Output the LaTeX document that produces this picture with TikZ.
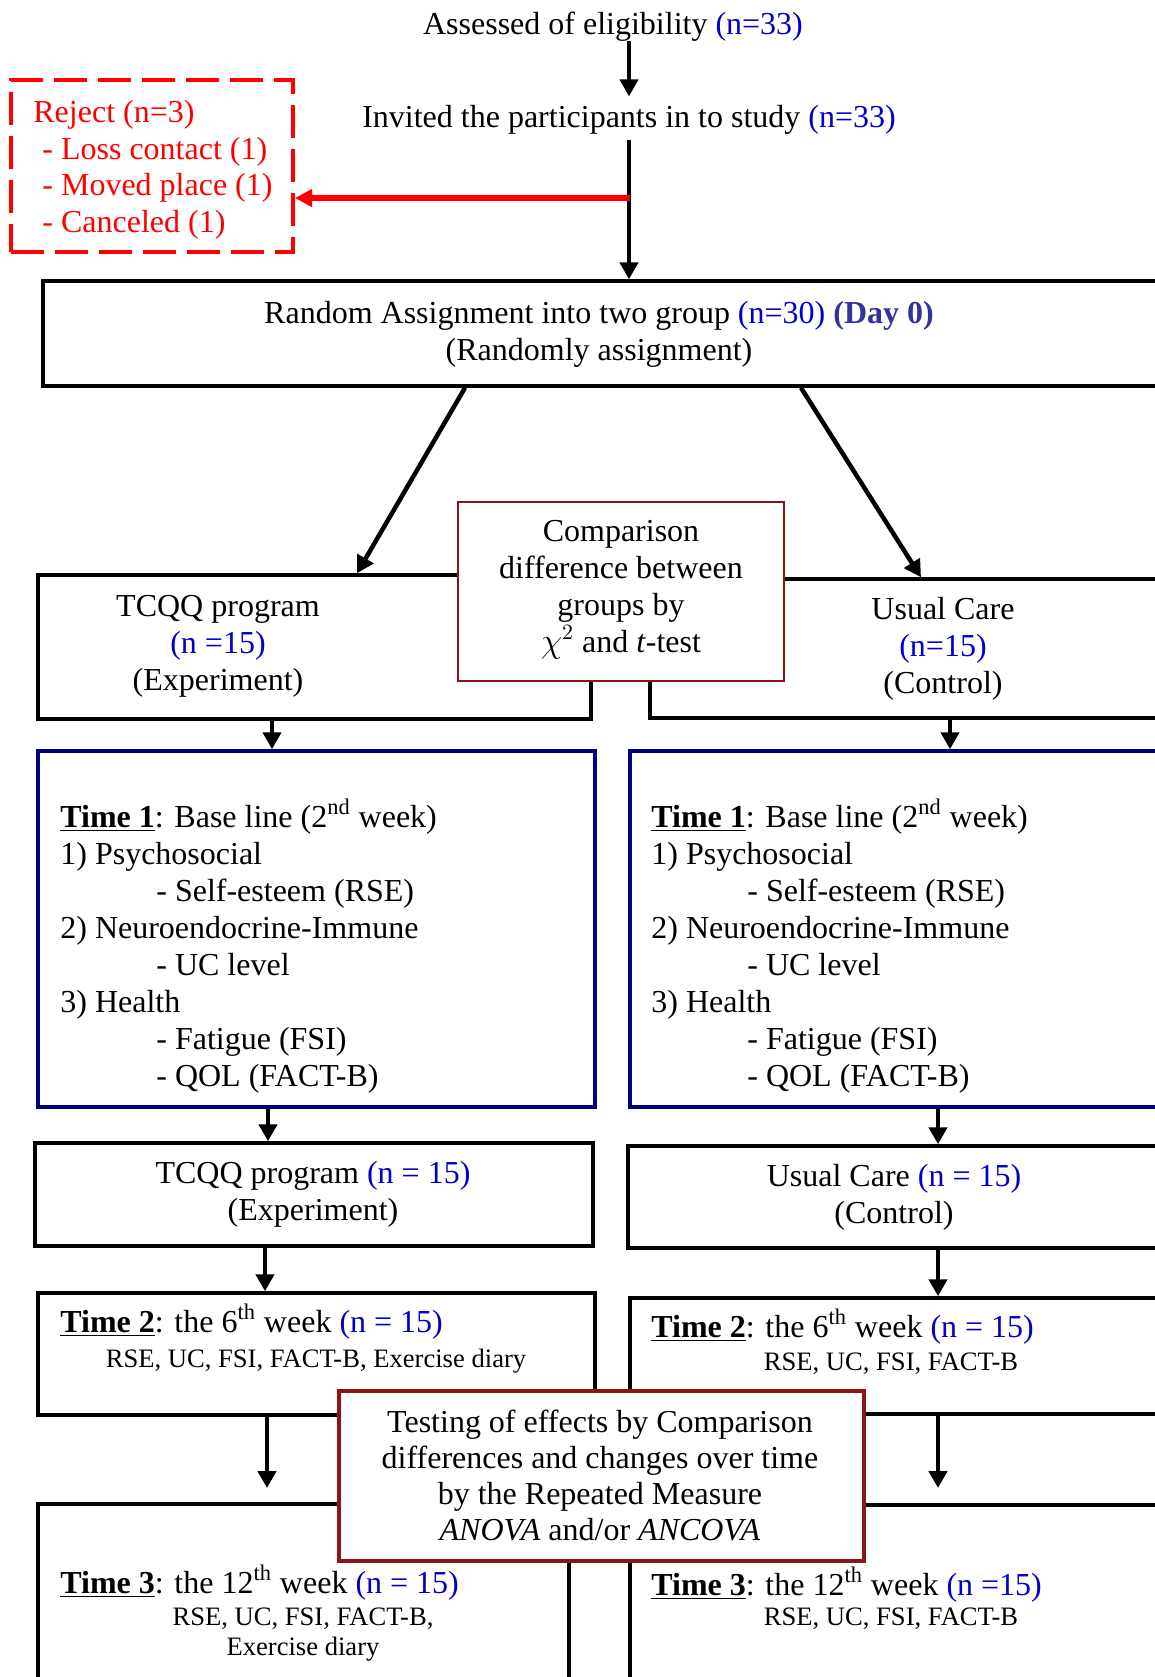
\documentclass[tikz,border=0pt]{standalone}
\usepackage{fontspec}
\setmainfont{Liberation Serif}
\usetikzlibrary{arrows.meta, fit, positioning}

\definecolor{nblue}{RGB}{0,0,204}
\definecolor{dayblue}{RGB}{51,51,153}
\definecolor{boxnavy}{RGB}{0,0,128}
\definecolor{statred}{RGB}{140,20,20}

\newcommand{\nn}[1]{\textcolor{nblue}{#1}}
\newcommand{\timehd}[1]{\underline{\textbf{Time #1}}}

\begin{document}
\begin{tikzpicture}[x=0.5pt, y=-0.5pt,
  txt/.style={inner sep=0pt, font=\fontsize{16}{18.5}\selectfont, align=center},
  small/.style={inner sep=0pt, font=\fontsize{13.3}{15}\selectfont, align=center},
  box/.style={draw, line width=1.75pt, inner sep=0pt},
  bluebox/.style={box, draw=boxnavy},
  statbox/.style={draw=statred, fill=white, line width=1.2pt, inner sep=0pt},
  rejbox/.style={draw=red, line width=2pt, dash pattern=on 16.5pt off 5.5pt, inner sep=0pt},
  arr/.style={line width=2.25pt, -{Triangle[length=8.5pt,width=9pt]}},
  redarr/.style={draw=red, line width=3pt, -{Triangle[length=8.5pt,width=8.5pt]}}]

  \useasboundingbox (0,0) rectangle (1155,1677);
  \clip (0,0) rectangle (1155,1677);

  % enrolment (multi-line texts sit on their last baseline)
  \node[txt, anchor=base] (assess) at (613,34) {Assessed of eligibility \nn{(n=33)}};
  \node[txt, anchor=base] (invite) at (629,127) {Invited the participants in to study \nn{(n=33)}};
  \node[rejbox, fit={(11,80) (293,252)}] (reject) {};
  \node[txt, anchor=base west, align=left, text=red, font=\fontsize{16}{18.2}\selectfont] (rejtxt) at (33,232)
    {Reject (n=3)\\\hspace{4.5pt}- Loss contact (1)\\\hspace{4.5pt}- Moved place (1)\\\hspace{4.5pt}- Canceled (1)};
  \node[box, fit={(43,281) (1160,386)}] (rand) {};
  \node[txt, anchor=base] (randtxt) at (599,360)
    {Random Assignment into two group \nn{(n=30)} \textcolor{dayblue}{\textbf{(Day 0)}}\\(Randomly assignment)};

  \coordinate (split) at (630,198);
  \draw[arr] (assess.south -| invite.north) -- ([yshift=4pt]invite.north);
  \draw[arr] ([yshift=-3pt]invite.south) -- (invite.south |- rand.north);
  \draw[redarr] (split) -- (split -| reject.east);

  % groups
  \node[box, fit={(38,575) (591,719)}] (exp1) {};
  \node[box, fit={(650,579) (1160,718)}] (ctrl1) {};
  \node[statbox, fit={(458,502) (784,681)}] (comp) {};
  \node[txt, anchor=base] (exp1txt) at (218,690) {TCQQ program\\\nn{(n =15)}\\(Experiment)};
  \node[txt, anchor=base] (ctrl1txt) at (943,693) {Usual Care\\\nn{(n=15)}\\(Control)};
  \node[txt, anchor=base] (comptxt) at (621,652)
    {Comparison\\difference between\\groups by\\$\chi^{2}$ and \textit{t}-test};
  \draw[arr] (rand.south -| 465,0) -- (exp1.north -| 357,0);
  \draw[arr] (rand.south -| 801,0) -- (ctrl1.north -| 921,0);

  % time 1
  \node[bluebox, fit={(38,751) (595,1107)}] (t1L) {};
  \node[bluebox, fit={(630,751) (1160,1107)}] (t1R) {};
  \foreach \side/\xx in {L/60, R/651}
    \node[txt, anchor=base west, align=left] (t1\side txt) at (\xx,1086)
      {\timehd{1}: Base line (2\textsuperscript{nd} week)\\1) Psychosocial\\\hspace{48pt}- Self-esteem (RSE)\\
       2) Neuroendocrine-Immune\\\hspace{48pt}- UC level\\3) Health\\\hspace{48pt}- Fatigue (FSI)\\
       \hspace{48pt}- QOL (FACT-B)};
  \draw[arr] (exp1.south -| 272,0) -- (t1L.north -| 272,0);
  \draw[arr] (ctrl1.south -| 950,0) -- (t1R.north -| 950,0);

  % programme
  \node[box, fit={(35,1143) (593,1246)}] (exp2) {};
  \node[box, fit={(628,1146) (1160,1248)}] (ctrl2) {};
  \node[txt, anchor=base] (exp2txt) at (313,1220) {TCQQ program \nn{(n = 15)}\\(Experiment)};
  \node[txt, anchor=base] (ctrl2txt) at (894,1223) {Usual Care \nn{(n = 15)}\\(Control)};
  \draw[arr] (t1L.south -| 268,0) -- (exp2.north -| 268,0);
  \draw[arr] (t1R.south -| 938,0) -- (ctrl2.north -| 938,0);

  % time 2 and time 3
  \node[box, fit={(38,1293) (595,1415)}] (t2L) {};
  \node[box, fit={(630,1298) (1160,1414)}] (t2R) {};
  \node[box, fit={(38,1504) (569,1700)}] (t3L) {};
  \node[box, fit={(630,1505) (1160,1700)}] (t3R) {};
  \draw[arr] (exp2.south -| 265,0) -- (t2L.north -| 265,0);
  \draw[arr] (ctrl2.south -| 938,0) -- (t2R.north -| 938,0);
  \coordinate (t3Lin) at (267,1488);
  \coordinate (t3Rin) at (938,1488);
  \draw[arr] (t2L.south -| t3Lin) -- (t3Lin);
  \draw[arr] (t2R.south -| t3Rin) -- (t3Rin);

  \node[txt, anchor=base west] (t2Ltxt) at (60,1332) {\timehd{2}: the 6\textsuperscript{th} week \nn{(n = 15)}};
  \node[small, anchor=base] (t2Lsub) at (316,1367) {RSE, UC, FSI, FACT-B, Exercise diary};
  \node[txt, anchor=base west] (t2Rtxt) at (651,1337) {\timehd{2}: the 6\textsuperscript{th} week \nn{(n = 15)}};
  \node[small, anchor=base] (t2Rsub) at (891,1370) {RSE, UC, FSI, FACT-B};
  \node[txt, anchor=base west] (t3Ltxt) at (60,1593) {\timehd{3}: the 12\textsuperscript{th} week \nn{(n = 15)}};
  \node[small, anchor=base] (t3Lsub) at (303,1655) {RSE, UC, FSI, FACT-B,\\Exercise diary};
  \node[txt, anchor=base west] (t3Rtxt) at (651,1595) {\timehd{3}: the 12\textsuperscript{th} week \nn{(n =15)}};
  \node[small, anchor=base] (t3Rsub) at (891,1625) {RSE, UC, FSI, FACT-B};

  \node[statbox, line width=1.75pt, fit={(339,1391) (864,1561)}] (test) {};
  \node[txt, anchor=base, font=\fontsize{16}{18}\selectfont] (testtxt) at (600,1540)
    {Testing of effects by Comparison\\differences and changes over time\\by the Repeated Measure\\
     \textit{ANOVA} and/or \textit{ANCOVA}};
\end{tikzpicture}
\end{document}
